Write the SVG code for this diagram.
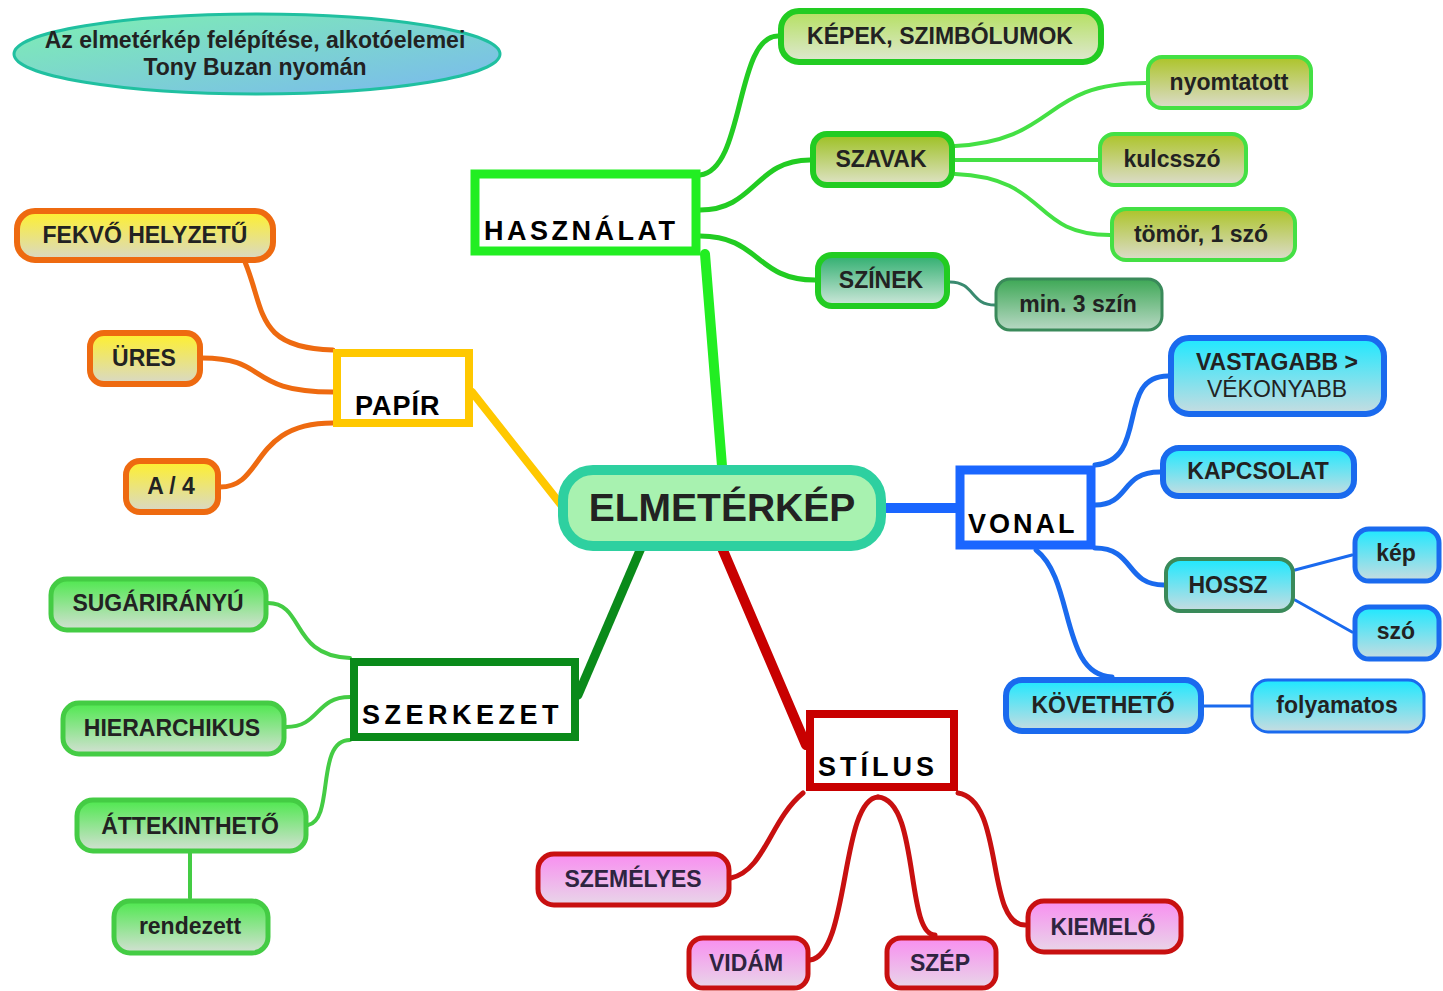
<svg xmlns="http://www.w3.org/2000/svg" width="1443" height="991" viewBox="0 0 1443 991">
<defs>
<linearGradient id="gTitle" x1="0" y1="0" x2="1" y2="1"><stop offset="0" stop-color="#7ef0b0"/><stop offset="1" stop-color="#7ab8f0"/></linearGradient>
<linearGradient id="gKepek" x1="0" y1="0" x2="0" y2="1"><stop offset="0" stop-color="#b4e060"/><stop offset="1" stop-color="#dfe8d2"/></linearGradient>
<linearGradient id="gSzavak" x1="0" y1="0" x2="0" y2="1"><stop offset="0" stop-color="#9cc020"/><stop offset="1" stop-color="#dfe3c8"/></linearGradient>
<linearGradient id="gSzinek" x1="0" y1="0" x2="0" y2="1"><stop offset="0" stop-color="#2eae6e"/><stop offset="1" stop-color="#d0e8dc"/></linearGradient>
<linearGradient id="gOlive" x1="0" y1="0" x2="0" y2="1"><stop offset="0" stop-color="#acc428"/><stop offset="1" stop-color="#dcdccc"/></linearGradient>
<linearGradient id="gMin" x1="0" y1="0" x2="0" y2="1"><stop offset="0" stop-color="#3ea856"/><stop offset="1" stop-color="#b8d8c4"/></linearGradient>
<linearGradient id="gYellow" x1="0" y1="0" x2="0" y2="1"><stop offset="0" stop-color="#fff02c"/><stop offset="1" stop-color="#d8d8c8"/></linearGradient>
<linearGradient id="gCyan" x1="0" y1="0" x2="0" y2="1"><stop offset="0" stop-color="#1ee8ff"/><stop offset="1" stop-color="#c8dce0"/></linearGradient>
<linearGradient id="gGreen" x1="0" y1="0" x2="0" y2="1"><stop offset="0" stop-color="#4ee84e"/><stop offset="1" stop-color="#d4e0d4"/></linearGradient>
<linearGradient id="gPink" x1="0" y1="0" x2="0" y2="1"><stop offset="0" stop-color="#f88ef0"/><stop offset="1" stop-color="#e8d6e8"/></linearGradient>
<style>
text{font-family:"Liberation Sans",Arial,sans-serif;font-weight:bold;fill:#222;}
.sub{font-size:23px;text-anchor:middle;}
.main{font-size:27px;fill:#000;}
.c{fill:none;stroke-linecap:round;}
.box{fill:#fff;}
.thin{font-weight:normal;}
</style>
</defs>
<rect width="1443" height="991" fill="#fff"/>

<g id="connectors">
<!-- main branches -->
<line class="c" x1="722" y1="466" x2="705" y2="254" stroke="#22ee22" stroke-width="10"/>
<line class="c" x1="472" y1="392" x2="562" y2="506" stroke="#ffc800" stroke-width="8" stroke-linecap="butt"/>
<line class="c" x1="885" y1="508" x2="956" y2="508" stroke="#1a66ff" stroke-width="10" stroke-linecap="butt"/>
<line class="c" x1="641" y1="548" x2="578" y2="695" stroke="#0a8a1a" stroke-width="9" stroke-linecap="butt"/>
<line class="c" x1="722" y1="548" x2="806" y2="745" stroke="#c80000" stroke-width="10" stroke-linecap="butt"/>
<!-- HASZNÁLAT -->
<g stroke="#22cc22" stroke-width="5">
<path class="c" d="M700,175 C745,170 735,36 778,36"/>
<path class="c" d="M700,210 C755,210 755,160 810,160"/>
<path class="c" d="M700,236 C760,236 755,280 815,280"/>
</g>
<g stroke="#44e044" stroke-width="4">
<path class="c" d="M955,146 C1060,140 1040,83 1146,83"/>
<path class="c" d="M955,160 L1098,160"/>
<path class="c" d="M955,174 C1050,178 1030,235 1110,235"/>
</g>
<path class="c" d="M950,282 C975,282 970,305 995,305" stroke="#3a8a70" stroke-width="3"/>
<!-- PAPÍR -->
<g stroke="#ee6a10" stroke-width="5">
<path class="c" d="M245,262 C265,310 255,348 333,350"/>
<path class="c" d="M202,358 C270,358 245,392 333,392"/>
<path class="c" d="M220,487 C265,487 250,423 333,423"/>
</g>
<!-- VONAL -->
<g stroke="#1a6aee" stroke-width="5">
<path class="c" d="M1095,465 C1150,460 1115,376 1168,376"/>
<path class="c" d="M1095,505 C1130,505 1120,472 1160,472"/>
<path class="c" d="M1095,548 C1135,548 1125,585 1164,585"/>
<path class="c" d="M1036,550 C1075,580 1060,675 1112,677"/>
</g>
<g stroke="#1a6aee" stroke-width="3">
<path class="c" d="M1295,570 L1352,555"/>
<path class="c" d="M1295,600 L1352,632"/>
<path class="c" d="M1203,706 L1251,706"/>
</g>
<!-- SZERKEZET -->
<g stroke="#44cc44" stroke-width="4">
<path class="c" d="M268,603 C305,603 290,656 350,658"/>
<path class="c" d="M286,727 C320,727 315,697 350,697"/>
<path class="c" d="M308,825 C335,820 315,740 350,740"/>
<path class="c" d="M190,853 L190,898"/>
</g>
<!-- STÍLUS -->
<g stroke="#c81010" stroke-width="5">
<path class="c" d="M803,793 C770,820 765,870 731,878"/>
<path class="c" d="M878,797 C840,800 850,955 810,960"/>
<path class="c" d="M878,797 C920,800 905,935 935,935"/>
<path class="c" d="M958,793 C1005,800 985,925 1025,925"/>
</g>
</g>

<g id="title">
<ellipse cx="257" cy="54" rx="243" ry="40" fill="url(#gTitle)" stroke="#20c0a0" stroke-width="3"/>
<text x="255" y="48" font-size="23" text-anchor="middle" fill="#163022">Az elmetérkép felépítése, alkotóelemei</text>
<text x="255" y="75" font-size="23" text-anchor="middle" fill="#163022">Tony Buzan nyomán</text>
</g>

<g id="elmeterkep">
<rect x="563" y="470" width="318" height="76" rx="30" fill="#a8f2b0" stroke="#2ed0a0" stroke-width="10"/>
<text x="722" y="521" font-size="39" text-anchor="middle">ELMETÉRKÉP</text>
</g>

<g id="hasznalat">
<rect x="475" y="174" width="221" height="77" class="box" stroke="#22ee22" stroke-width="9"/>
<text x="484" y="240" class="main" letter-spacing="3.5">HASZNÁLAT</text>
</g>
<g id="papir">
<rect x="337" y="353" width="132" height="70" class="box" stroke="#ffc800" stroke-width="8"/>
<text x="355" y="415" class="main" font-size="28" letter-spacing="1">PAPÍR</text>
</g>
<g id="vonal">
<rect x="960" y="470" width="131" height="75" class="box" stroke="#1a66ff" stroke-width="9"/>
<text x="968" y="533" class="main" letter-spacing="3">VONAL</text>
</g>
<g id="szerkezet">
<rect x="354" y="662" width="221" height="75" class="box" stroke="#0a8a1a" stroke-width="8"/>
<text x="362" y="724" class="main" letter-spacing="4.5">SZERKEZET</text>
</g>
<g id="stilus">
<rect x="810" y="714" width="144" height="73" class="box" stroke="#c80000" stroke-width="8"/>
<text x="818" y="776" class="main" letter-spacing="4">STÍLUS</text>
</g>

<!-- HASZNÁLAT subs -->
<g id="kepek"><rect x="781" y="11" width="320" height="51" rx="18" fill="url(#gKepek)" stroke="#22cc22" stroke-width="6"/><text x="940" y="44" class="sub">KÉPEK, SZIMBÓLUMOK</text></g>
<g id="szavak"><rect x="813" y="134" width="139" height="51" rx="14" fill="url(#gSzavak)" stroke="#22cc22" stroke-width="6"/><text x="881" y="167" class="sub">SZAVAK</text></g>
<g id="szinek"><rect x="818" y="255" width="129" height="51" rx="14" fill="url(#gSzinek)" stroke="#22cc22" stroke-width="6"/><text x="881" y="288" class="sub">SZÍNEK</text></g>
<g id="nyomtatott"><rect x="1148" y="57" width="163" height="51" rx="14" fill="url(#gOlive)" stroke="#44e044" stroke-width="4"/><text x="1229" y="90" class="sub">nyomtatott</text></g>
<g id="kulcsszo"><rect x="1100" y="134" width="146" height="51" rx="14" fill="url(#gOlive)" stroke="#44e044" stroke-width="4"/><text x="1172" y="167" class="sub">kulcsszó</text></g>
<g id="tomor"><rect x="1112" y="209" width="183" height="51" rx="14" fill="url(#gOlive)" stroke="#44e044" stroke-width="4"/><text x="1201" y="242" class="sub">tömör, 1 szó</text></g>
<g id="min3szin"><rect x="996" y="279" width="166" height="51" rx="14" fill="url(#gMin)" stroke="#3a8a5a" stroke-width="3"/><text x="1078" y="312" class="sub">min. 3 szín</text></g>

<!-- PAPÍR subs -->
<g id="fekvo"><rect x="17" y="211" width="256" height="49" rx="18" fill="url(#gYellow)" stroke="#ee6a10" stroke-width="6"/><text x="145" y="243" class="sub">FEKVŐ HELYZETŰ</text></g>
<g id="ures"><rect x="90" y="333" width="110" height="51" rx="14" fill="url(#gYellow)" stroke="#ee6a10" stroke-width="6"/><text x="144" y="366" class="sub">ÜRES</text></g>
<g id="a4"><rect x="126" y="461" width="92" height="51" rx="14" fill="url(#gYellow)" stroke="#ee6a10" stroke-width="6"/><text x="171" y="494" class="sub">A / 4</text></g>

<!-- VONAL subs -->
<g id="vastagabb"><rect x="1171" y="338" width="213" height="76" rx="18" fill="url(#gCyan)" stroke="#1a6aee" stroke-width="6"/><text x="1277" y="370" class="sub">VASTAGABB &gt;</text><text x="1277" y="397" class="sub thin">VÉKONYABB</text></g>
<g id="kapcsolat"><rect x="1163" y="448" width="191" height="48" rx="16" fill="url(#gCyan)" stroke="#1a6aee" stroke-width="6"/><text x="1258" y="479" class="sub">KAPCSOLAT</text></g>
<g id="hossz"><rect x="1166" y="559" width="127" height="52" rx="14" fill="url(#gCyan)" stroke="#3a8a5a" stroke-width="4"/><text x="1228" y="593" class="sub">HOSSZ</text></g>
<g id="kep"><rect x="1355" y="529" width="84" height="52" rx="14" fill="url(#gCyan)" stroke="#1a6aee" stroke-width="5"/><text x="1396" y="561" class="sub">kép</text></g>
<g id="szo"><rect x="1355" y="607" width="84" height="52" rx="14" fill="url(#gCyan)" stroke="#1a6aee" stroke-width="5"/><text x="1396" y="639" class="sub">szó</text></g>
<g id="kovetheto"><rect x="1006" y="680" width="195" height="51" rx="16" fill="url(#gCyan)" stroke="#1a6aee" stroke-width="6"/><text x="1103" y="713" class="sub">KÖVETHETŐ</text></g>
<g id="folyamatos"><rect x="1252" y="680" width="172" height="52" rx="16" fill="url(#gCyan)" stroke="#1a6aee" stroke-width="3"/><text x="1337" y="713" class="sub">folyamatos</text></g>

<!-- SZERKEZET subs -->
<g id="sugarirany"><rect x="51" y="579" width="215" height="51" rx="16" fill="url(#gGreen)" stroke="#44cc44" stroke-width="5"/><text x="158" y="611" class="sub">SUGÁRIRÁNYÚ</text></g>
<g id="hierarchikus"><rect x="63" y="703" width="221" height="51" rx="16" fill="url(#gGreen)" stroke="#44cc44" stroke-width="5"/><text x="172" y="736" class="sub">HIERARCHIKUS</text></g>
<g id="attekintheto"><rect x="77" y="800" width="229" height="51" rx="16" fill="url(#gGreen)" stroke="#44cc44" stroke-width="5"/><text x="190" y="834" class="sub">ÁTTEKINTHETŐ</text></g>
<g id="rendezett"><rect x="114" y="901" width="154" height="52" rx="16" fill="url(#gGreen)" stroke="#44cc44" stroke-width="5"/><text x="190" y="934" class="sub">rendezett</text></g>

<!-- STÍLUS subs -->
<g id="szemelyes"><rect x="538" y="854" width="191" height="51" rx="16" fill="url(#gPink)" stroke="#c81010" stroke-width="5"/><text x="633" y="887" class="sub" style="fill:#2e2440">SZEMÉLYES</text></g>
<g id="vidam"><rect x="689" y="938" width="119" height="50" rx="14" fill="url(#gPink)" stroke="#c81010" stroke-width="5"/><text x="746" y="971" class="sub" style="fill:#2e2440">VIDÁM</text></g>
<g id="szep"><rect x="887" y="938" width="109" height="50" rx="14" fill="url(#gPink)" stroke="#c81010" stroke-width="5"/><text x="940" y="971" class="sub" style="fill:#2e2440">SZÉP</text></g>
<g id="kiemelo"><rect x="1028" y="901" width="153" height="51" rx="16" fill="url(#gPink)" stroke="#c81010" stroke-width="5"/><text x="1103" y="935" class="sub" style="fill:#2e2440">KIEMELŐ</text></g>
</svg>
